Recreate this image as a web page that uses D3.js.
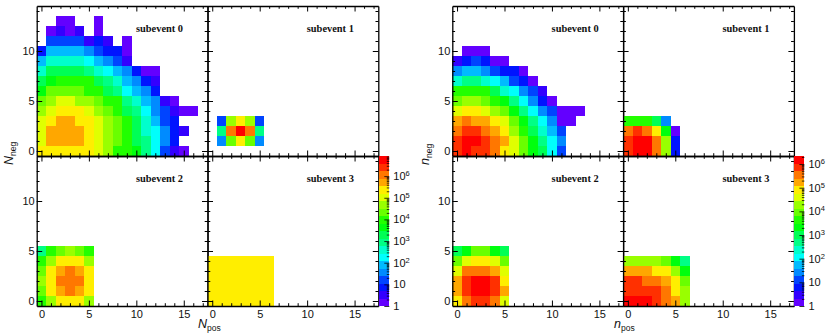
<!DOCTYPE html>
<html>
<head>
<meta charset="utf-8">
<script src="https://cdn.jsdelivr.net/npm/d3@7"></script>
<style>
  html, body { margin: 0; padding: 0; background: #fff; }
  svg { display: block; }
  .tick text, .lab { font-family: "Liberation Sans", sans-serif; font-size: 11px; fill: #111; }
  .sub { font-family: "Liberation Serif", serif; font-weight: bold; font-size: 10.4px; fill: #111; }
</style>
</head>
<body>
<div id="chart"></div>
<script>
// log10(counts) per cell, outer index = y bin (0 up), inner index = x bin (0 right)
var Nsub0 = [
  [5.4,5.4,5.4,5.4,5.4,5.4,5,4.7,4,4,3.6,2.9,2.3,1.2,.5,.2],
  [5,5.7,5.7,5.7,5.7,5.4,5,4.7,4.3,4,3.3,2.9,2.3,1.6,.9],
  [5,5.7,5.7,5.7,5.7,5.4,5,4.7,4.3,4,3.3,2.6,2.3,1.6,.9,.5],
  [5,5.4,5.7,5.7,5.4,5.4,5,4.7,4.3,4,3.3,2.6,1.9,1.2,.9],
  [4.7,5,5.4,5.4,5.4,5,4.7,4.3,4,3.3,2.9,2.3,1.6,1.2,.5,.2,.2],
  [4.3,4.7,5,5,4.7,4.7,4.3,4,4,2.9,2.6,1.9,1.6,.5,.2],
  [3.6,4.3,4.3,4.3,4.3,4,4,3.3,2.9,2.3,1.9,1.6,.9],
  [3.3,3.6,4,4,4,4,3.3,2.9,2.6,1.9,1.6,.9,.5],
  [2.6,3.3,3.3,3.3,3.3,2.9,2.6,2.3,1.9,1.6,.9,.2,.2],
  [1.9,2.6,2.6,2.6,2.6,2.3,1.9,1.6,1.2,.5],
  [.9,1.9,1.9,1.9,1.9,1.6,1.2,.9,.9,.2],
  [null,1.2,1.2,1.2,1.2,.5,.9,.5,null,.2],
  [null,.2,.5,.2,.5,null,.2],
  [null,null,.2,.2,null,null,.2]
];
var Nsub1 = [
  [],
  [null,1.6,4.3,5.4,4.3,1.6],
  [null,2.9,6.1,6.8,6.1,2.9],
  [null,1.2,4.7,5.4,4.7,1.2]
];
var Nsub2 = [
  [4,4.7,5.4,5.4,5.4,4.7],
  [4.3,5.4,5.7,6.1,5.7,5.4],
  [4.7,5.4,6.1,6.1,6.1,5.4],
  [4.3,5.4,5.7,6.1,5.7,5.4],
  [4,4.7,5.4,5.4,5.4,4.7],
  [2.9,4,4.3,4.7,4.3,4]
];
var Nsub3 = [
  [5.4,5.4,5.4,5.4,5.4,5.4,5.4],
  [5.4,5.4,5.4,5.4,5.4,5.4,5.4],
  [5.4,5.4,5.4,5.4,5.4,5.4,5.4],
  [5.4,5.4,5.4,5.4,5.4,5.4,5.4],
  [5.4,5.4,5.4,5.4,5.4,5.4,5.4]
];
var nsub0 = [
  [5.9,6.2,5.9,5.9,5.5,4.9,4.6,4,3.3,3,2.1,1.1],
  [5.9,6.2,6.2,5.9,5.5,5.2,4.6,4,3.3,2.7,2.1,1.4],
  [5.5,5.9,5.9,5.5,5.2,4.9,4.3,3.6,3,2.4,1.7,1.1],
  [5.2,5.5,5.2,5.2,4.9,4.6,4,3.3,2.7,2.1,1.4,.2,.2],
  [4.6,4.9,4.9,4.6,4.3,4,3.3,2.7,2.1,1.4,1.1,.2,.2,.2],
  [4,4.3,4.3,4,3.6,3.3,2.7,2.1,1.4,.8,.2],
  [3.6,3.6,3.6,3.6,3,2.4,2.1,1.4,1.1,.5],
  [2.4,2.7,2.7,2.4,2.1,1.7,1.1,.8,.2],
  [1.4,1.7,1.7,1.4,1.1,.8,.8,.2],
  [.5,.8,1.1,.8,.2,.2],
  [null,.2,.2,.2]
];
var nsub1 = [
  [5.9,6.2,6.2,5.5,4.3,.8],
  [5.9,6.2,6.2,5.5,4.3,.8],
  [5.5,5.9,5.5,4.9,3.3,.2],
  [3.6,3.6,3.6,3,1.4]
];
var nsub2 = [
  [4.9,5.5,5.9,5.9,5.5,4.6],
  [5.2,5.9,6.2,6.2,5.9,5.2],
  [5.2,5.9,6.2,6.2,5.9,4.9],
  [4.6,5.5,5.5,5.5,5.2,4.6],
  [4,4.6,4.9,4.9,4.6,4],
  [3,3.3,4,4,3.3,3]
];
var nsub3 = [
  [6.2,6.2,6.2,5.9,5.5,5.2,4.3],
  [5.9,5.9,5.9,5.9,5.5,4.9,4.3],
  [5.9,5.9,5.5,5.5,5.2,4.9,4],
  [5.2,5.2,5.2,4.9,4.9,4.3,3.3],
  [4.3,4.3,4.3,4.3,4,3.3,2.7]
];
var subLabels = ['subevent 0', 'subevent 1', 'subevent 2', 'subevent 3'];
var decades = [0, 1, 2, 3, 4, 5, 6];
var paletteHues = [263.2,252,235.2,224,207.2,196,179.2,168,151.2,140,123.2,112,95.2,84,67.2,56,39.2,28,11.2,0];

var svg = d3.select('#chart').append('svg').attr('width', 830).attr('height', 334);
var colors = paletteHues.map(function(h) { return d3.hsl(h, 1, 0.5).formatHex(); });

var W = 170.8, H = 150, top0 = 6;
var xScale = d3.scaleLinear().domain([-0.5, 17.5]).range([0, W]);
var yScale = d3.scaleLinear().domain([-0.5, 14.5]).range([H, 0]);
var xTicks = d3.range(0, 18), yTicks = d3.range(0, 15);

// ticks are inside the frame: long at multiples of 5, short otherwise
function tickLen(d) { return d % 5 === 0 ? 5.5 : 2.8; }

function drawAxis(g, axis, values, sign, attr, labels, padding) {
  var a = g.append('g').call(axis.tickValues(values).tickSize(0).tickSizeOuter(0).tickPadding(padding)
    .tickFormat(labels ? function(d) { return d % 5 === 0 ? d : ''; } : function() { return ''; }));
  a.select('.domain').attr('stroke', '#000').attr('stroke-width', 1.3);
  a.selectAll('.tick line').attr('stroke', '#000').attr('stroke-width', 1)
    .attr(attr, function(d) { return sign * tickLen(d); });
  return a;
}

function drawPanel(x0, y0, values, color, label, showX, showY) {
  var g = svg.append('g').attr('transform', 'translate(' + x0 + ',' + y0 + ')');
  var cells = [];
  values.forEach(function(row, j) {
    row.forEach(function(v, i) {
      if (v !== null) cells.push({ i: i, j: j, v: v });
    });
  });
  g.selectAll('rect').data(cells).enter().append('rect')
    .attr('x', function(d) { return xScale(d.i - 0.5); })
    .attr('y', function(d) { return yScale(d.j + 0.5); })
    .attr('width', xScale(1) - xScale(0))
    .attr('height', yScale(0) - yScale(1))
    .attr('fill', function(d) { return color(d.v); })
    .attr('shape-rendering', 'crispEdges');

  drawAxis(g.append('g').attr('transform', 'translate(0,' + H + ')'), d3.axisBottom(xScale), xTicks, -1, 'y2', showX, 4);
  drawAxis(g.append('g'), d3.axisTop(xScale), xTicks, 1, 'y2', false, 4);
  drawAxis(g.append('g'), d3.axisLeft(yScale), yTicks, 1, 'x2', showY, 2);
  drawAxis(g.append('g').attr('transform', 'translate(' + W + ',0)'), d3.axisRight(yScale), yTicks, -1, 'x2', false, 4);

  g.append('text').attr('class', 'sub').attr('x', 99.3).attr('y', 25.5).text(label);
}

function drawBar(x0, logMax) {
  var barW = 10.5;
  var levels = d3.range(colors.length);
  var barY = d3.scaleLinear().domain([0, colors.length]).range([top0 + 2 * H, top0 + H]);
  svg.append('g').selectAll('rect').data(levels).enter().append('rect')
    .attr('x', x0).attr('width', barW)
    .attr('y', function(d) { return barY(d + 1); })
    .attr('height', barY(0) - barY(1))
    .attr('fill', function(d) { return colors[d]; })
    .attr('shape-rendering', 'crispEdges');

  var logScale = d3.scaleLog().domain([1, Math.pow(10, logMax)]).range([top0 + 2 * H, top0 + H]);
  var major = decades.map(function(p) { return Math.pow(10, p); });
  var minor = [];
  major.forEach(function(m) {
    d3.range(2, 10).forEach(function(k) {
      if (m * k <= Math.pow(10, logMax)) minor.push(m * k);
    });
  });
  var a = svg.append('g').attr('transform', 'translate(' + (x0 + barW) + ',0)')
    .call(d3.axisRight(logScale).tickValues(major.concat(minor)).tickSize(0).tickSizeOuter(0).tickPadding(4).tickFormat(''));
  a.select('.domain').remove();
  a.selectAll('.tick line').attr('stroke', '#000').attr('stroke-width', 0.8)
    .attr('x2', function(d) { return major.indexOf(d) >= 0 ? -5 : -2.5; });
  a.selectAll('.tick').each(function(d) {
    var idx = major.indexOf(d);
    if (idx < 0) return;
    var t = d3.select(this).select('text').attr('class', 'lab');
    if (idx === 0) { t.text('1'); return; }
    t.append('tspan').text('10');
    if (idx > 1) t.append('tspan').attr('dy', -4).attr('font-size', '7.5px').text(idx);
  });
}

function drawTitle(x, y, rotate, main, sub) {
  var t = svg.append('text').attr('class', 'lab')
    .attr('transform', 'translate(' + x + ',' + y + ')' + (rotate ? ' rotate(-90)' : ''));
  t.append('tspan').attr('font-style', 'italic').attr('font-size', '12.5px').text(main);
  t.append('tspan').attr('font-size', '8.5px').attr('dy', 2.5).text(sub);
}

function drawGroup(x0, panels, logMax, titleX, titleY, xMain, yMain, barX) {
  var color = d3.scaleQuantize().domain([0, logMax]).range(colors);
  panels.forEach(function(values, k) {
    var col = k % 2, row = Math.floor(k / 2);
    drawPanel(x0 + col * W, top0 + row * H, values, color, subLabels[k], row === 1, col === 0);
  });
  drawBar(barX, logMax);
  drawTitle(titleX, 328, false, xMain, 'pos');
  drawTitle(titleY, 165, true, yMain, 'neg');
}

drawGroup(36.7, [Nsub0, Nsub1, Nsub2, Nsub3], 6.93, 198, 13, 'N', 'N', 378.8);
drawGroup(452.3, [nsub0, nsub1, nsub2, nsub3], 6.34, 614, 429, 'n', 'n', 793.9);
</script>
</body>
</html>
